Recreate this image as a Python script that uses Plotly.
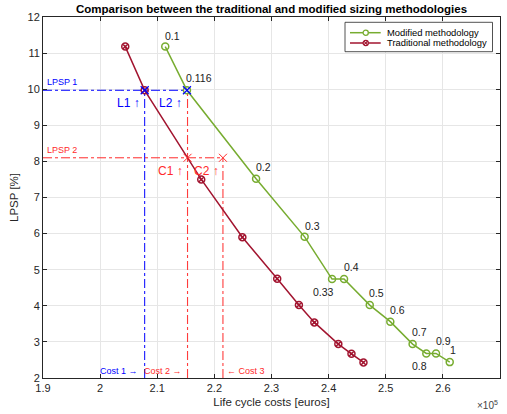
import plotly.graph_objects as go

# ---------------- data ----------------
mod_cost = [211400, 215200, 227300, 235800, 240600, 242700, 247200, 250800, 254700, 257100, 258800, 261200]
mod_lpsp = [11.18, 9.97, 7.52, 5.91, 4.74, 4.74, 4.02, 3.56, 2.94, 2.68, 2.68, 2.44]
mod_labels = ["0.1", "0.116", "0.2", "0.3", "0.33", "0.4", "0.5", "0.6", "0.7", "0.8", "0.9", "1"]

trad_cost = [204400, 207800, 217700, 224900, 231000, 234800, 237500, 241700, 244000, 246100]
trad_lpsp = [11.18, 9.97, 7.50, 5.90, 4.75, 4.02, 3.54, 2.94, 2.67, 2.43]

lpsp_levels = [9.97, 8.10]          # LPSP 1, LPSP 2
cost_levels = [207800, 215300, 221500]  # Cost 1, Cost 2, Cost 3
L_points_cost = [207800, 215200]    # L1, L2
C_points_cost = [215300, 221500]    # C1, C2

series_names = ["Modified methodology", "Traditional methodology"]

x_ticks = [190000, 200000, 210000, 220000, 230000, 240000, 250000, 260000, 270000]
x_ticktext = ["1.9", "2", "2.1", "2.2", "2.3", "2.4", "2.5", "2.6", "2.7"]
y_ticks = list(range(2, 13))

# label offsets (pixels) for point labels
label_shift = [(7, 11), (12, 12), (7, 12), (8, 11), (-9, -13), (7, 12), (7, 12), (7, 12), (7, 12), (-7, -13), (7, 12), (3, 12)]

GREEN = "#77AC30"
DRED = "#A2142F"
BLUE = "#0000FF"
RED = "#FF2A2A"
RED_V = "#FF3C3C"
FONT = "Liberation Sans, Arial, Helvetica, sans-serif"

xmin, xmax = 190000, 270000
ymin, ymax = 2, 12

W, H = 507, 414
ML, MR, MT, MB = 43, 7, 17, 36
PW, PH = W - ML - MR, H - MT - MB


def fx(px):
    return (px - ML) / PW


def fy(py):
    return (H - MB - py) / PH


fig = go.Figure()

# reference dash-dot lines
fig.add_trace(go.Scatter(x=[xmin, L_points_cost[1]], y=[lpsp_levels[0]] * 2, mode="lines",
                         line=dict(color=BLUE, width=1, dash="dashdot"), showlegend=False, hoverinfo="skip"))
fig.add_trace(go.Scatter(x=[cost_levels[0]] * 2, y=[ymin, lpsp_levels[0]], mode="lines",
                         line=dict(color=BLUE, width=1, dash="dashdot"), showlegend=False, hoverinfo="skip"))
fig.add_trace(go.Scatter(x=[xmin, cost_levels[2]], y=[lpsp_levels[1]] * 2, mode="lines",
                         line=dict(color=RED, width=1, dash="dashdot"), showlegend=False, hoverinfo="skip"))
fig.add_trace(go.Scatter(x=[cost_levels[1]] * 2, y=[ymin, lpsp_levels[0]], mode="lines",
                         line=dict(color=RED_V, width=1.1, dash="dashdot"), showlegend=False, hoverinfo="skip"))
fig.add_trace(go.Scatter(x=[cost_levels[2]] * 2, y=[ymin, lpsp_levels[1]], mode="lines",
                         line=dict(color=RED_V, width=1.1, dash="dashdot"), showlegend=False, hoverinfo="skip"))

# main series
fig.add_trace(go.Scatter(x=mod_cost, y=mod_lpsp, mode="lines+markers", name=series_names[0],
                         line=dict(color=GREEN, width=1.5), showlegend=False,
                         marker=dict(symbol="circle-open", size=7, color=GREEN, line=dict(width=1.5))))
fig.add_trace(go.Scatter(x=trad_cost, y=trad_lpsp, mode="lines+markers", name=series_names[1],
                         line=dict(color=DRED, width=1.5), showlegend=False,
                         marker=dict(symbol="circle-x-open", size=7, color=DRED, line=dict(width=1.5))))

# intersection markers
fig.add_trace(go.Scatter(x=L_points_cost, y=[lpsp_levels[0]] * 2, mode="markers",
                         marker=dict(symbol="x-thin-open", size=8, color=BLUE, line=dict(width=1.2, color=BLUE)),
                         showlegend=False, hoverinfo="skip"))
fig.add_trace(go.Scatter(x=C_points_cost, y=[lpsp_levels[1]] * 2, mode="markers",
                         marker=dict(symbol="x-thin-open", size=8, color=RED, line=dict(width=1, color=RED)),
                         showlegend=False, hoverinfo="skip"))

ann = []
for cx, cy, lab, (dx, dy) in zip(mod_cost, mod_lpsp, mod_labels, label_shift):
    ann.append(dict(x=cx, y=cy, text=lab, showarrow=False, xshift=dx, yshift=dy,
                    font=dict(size=10.5, color="#222222", family=FONT)))

small = dict(size=9, family=FONT)
ann += [
    dict(x=xmin, y=lpsp_levels[0], text="LPSP 1", showarrow=False, xanchor="left", yanchor="bottom",
         xshift=2, yshift=1, font=dict(color=BLUE, **small)),
    dict(x=xmin, y=lpsp_levels[1], text="LPSP 2", showarrow=False, xanchor="left", yanchor="bottom",
         xshift=2, yshift=1, font=dict(color=RED, **small)),
    dict(x=L_points_cost[0], y=lpsp_levels[0], text="L1 ↑", showarrow=False, xanchor="right", yanchor="top",
         xshift=-3, yshift=-4, font=dict(color=BLUE, size=12, family=FONT)),
    dict(x=L_points_cost[1], y=lpsp_levels[0], text="L2 ↑", showarrow=False, xanchor="right", yanchor="top",
         xshift=-3, yshift=-4, font=dict(color=BLUE, size=12, family=FONT)),
    dict(x=C_points_cost[0], y=lpsp_levels[1], text="C1 ↑", showarrow=False, xanchor="right", yanchor="top",
         xshift=-3, yshift=-4, font=dict(color=RED, size=12, family=FONT)),
    dict(x=C_points_cost[1], y=lpsp_levels[1], text="C2 ↑", showarrow=False, xanchor="right", yanchor="top",
         xshift=-2, yshift=-4, font=dict(color=RED, size=12, family=FONT)),
    dict(x=cost_levels[0], y=ymin, text="Cost 1 →", showarrow=False, xanchor="right", yanchor="bottom",
         xshift=-5, yshift=0, font=dict(color=BLUE, **small)),
    dict(x=cost_levels[1], y=ymin, text="Cost 2 →", showarrow=False, xanchor="right", yanchor="bottom",
         xshift=-4, yshift=0, font=dict(color=RED, **small)),
    dict(x=cost_levels[2], y=ymin, text="← Cost 3", showarrow=False, xanchor="left", yanchor="bottom",
         xshift=2, yshift=0, font=dict(color=RED, **small)),
    dict(x=1.0, y=0, xref="paper", yref="paper", text="×10<sup>5</sup>", showarrow=False,
         xanchor="right", yanchor="top", yshift=-19, xshift=0, font=dict(size=10, color="#444444", family=FONT)),
    dict(x=0.5, y=1, xref="paper", yref="paper", text="<b>Comparison between the traditional and modified sizing methodologies</b>",
         showarrow=False, xanchor="center", yanchor="bottom", yshift=0, font=dict(size=11.5, color="#000000", family=FONT)),
]

# ---- legend box (drawn manually to match compact MATLAB legend) ----
shapes = [dict(type="rect", xref="paper", yref="paper", x0=fx(345), x1=fx(492.5), y0=fy(51.7), y1=fy(22.3),
               line=dict(color="#262626", width=0.8), fillcolor="white", layer="above")]
leg_rows = [32.7, 43.0]
leg_colors = [GREEN, DRED]
mx = fx(365.7)
for name, py, col, i in zip(series_names, leg_rows, leg_colors, range(2)):
    shapes.append(dict(type="line", xref="paper", yref="paper", x0=fx(350), x1=fx(380.7), y0=fy(py), y1=fy(py),
                       line=dict(color=col, width=1.5), layer="above"))
    shapes.append(dict(type="circle", xref="paper", yref="paper", xsizemode="pixel", ysizemode="pixel",
                       xanchor=mx, yanchor=fy(py), x0=-2.6, x1=2.6, y0=-2.6, y1=2.6,
                       line=dict(color=col, width=1.3), fillcolor="white", layer="above"))
    if i == 1:
        for sgn in (1, -1):
            shapes.append(dict(type="line", xref="paper", yref="paper", xsizemode="pixel", ysizemode="pixel",
                               xanchor=mx, yanchor=fy(py), x0=-1.8, x1=1.8, y0=-1.8 * sgn, y1=1.8 * sgn,
                               line=dict(color=col, width=1.2), layer="above"))
    ann.append(dict(x=fx(385), y=fy(py), xref="paper", yref="paper", text=name, showarrow=False,
                    xanchor="left", yanchor="middle", font=dict(size=9.4, color="#000000", family=FONT)))

axis_common = dict(showline=True, linecolor="#262626", linewidth=1, mirror="allticks", ticks="inside",
                   ticklen=4, tickcolor="#262626", showgrid=True, gridcolor="#E6E6E6", gridwidth=1,
                   zeroline=False, tickfont=dict(size=11, color="#262626", family=FONT))

fig.update_layout(
    width=W, height=H,
    margin=dict(l=ML, r=MR, t=MT, b=MB),
    plot_bgcolor="white", paper_bgcolor="white",
    font=dict(family=FONT, color="#262626"),
    xaxis=dict(range=[xmin, xmax], tickvals=x_ticks, ticktext=x_ticktext,
               title=dict(text="Life cycle costs [euros]", font=dict(size=11.5, color="#262626"), standoff=4),
               **axis_common),
    yaxis=dict(range=[ymin, ymax], tickvals=y_ticks,
               title=dict(text="LPSP [%]", font=dict(size=11.5, color="#262626"), standoff=6),
               **axis_common),
    annotations=ann,
    shapes=shapes,
    showlegend=False,
)

fig.write_html("out.html", config={"displayModeBar": False},
               post_script="document.body.style.margin='0';document.body.style.overflow='hidden';")
